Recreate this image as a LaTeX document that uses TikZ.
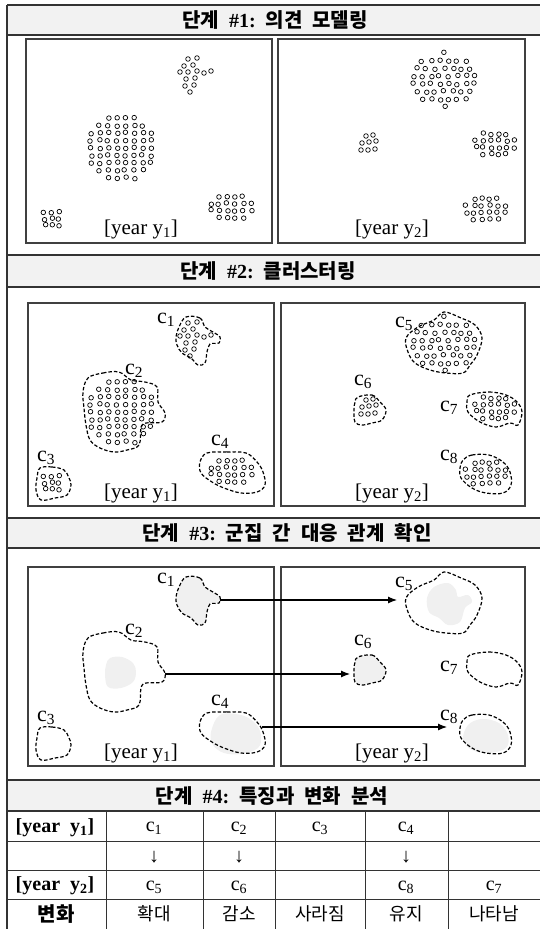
\documentclass[tikz,border=0pt]{standalone}
\usepackage{fontspec}
\setmainfont{Liberation Serif}
\newfontfamily\kr{Noto Sans CJK KR}
\usetikzlibrary{arrows.meta,calc,positioning}

\newcommand{\wgap}{\hspace{10pt}}
\newcommand{\stagetitle}[2]{\kr 단계\wgap{\rmfamily\##1:}\wgap\kr #2}

% small rings filling an ellipse: centre x, centre y, radius x, radius y, spacing
\newcommand{\ringcloud}[5]{%
  \pgfmathtruncatemacro{\nrow}{floor(2*#4/(0.87*#5))}%
  \foreach \k in {0,...,\nrow}{%
    \pgfmathsetmacro{\rowy}{#2+(\k-\nrow/2)*0.87*#5}%
    \pgfmathsetmacro{\halfw}{#3*sqrt(max(0,1-((\rowy-#2)/#4)^2))}%
    \pgfmathtruncatemacro{\ncol}{floor(2*\halfw/#5)}%
    \foreach \i in {0,...,\ncol}{%
      \pgfmathsetmacro{\dotx}{#1+(\i-\ncol/2)*#5+1.2*rand}%
      \pgfmathsetmacro{\doty}{\rowy+0.9*rand}%
      \draw[ring] (\dotx,\doty) circle (2.3pt);
    }%
  }%
}

% the opinions of both years
\newcommand{\opinions}{%
  \pgfmathsetseed{11}%
  \foreach \p in {(188,59),(197,58),(184,66),(193,65),(180,72),(188,72),(197,71),(204,73),(211,71),(186,79),(195,78),(185,86),(194,85),(190,92),
                  (366,136),(373,135),(362,143),(369,142),(376,141),(361,150),(368,150),(375,149)}{
    \draw[ring] \p circle (2.3pt);
  }
  \ringcloud{121}{148}{34}{33}{8.6}
  \ringcloud{52}{219}{11}{9}{7.5}
  \ringcloud{231}{207}{22}{13}{8}
  \ringcloud{444}{80}{33}{27}{8.8}
  \ringcloud{495}{144}{21}{13}{7.8}
  \ringcloud{486}{209}{21}{13}{7.8}
}

% cluster borders
\newcommand{\hullA}[1]{\path[#1] plot[smooth cycle,tension=0.6] coordinates {(186,53) (200,54) (205,63) (213,68) (220,73) (219,79) (210,80) (207,88) (205,99) (198,101) (191,94) (182,89) (177,81) (176,73) (179,63)};}
\newcommand{\hullB}[1]{\path[#1] plot[smooth cycle,tension=0.6] coordinates {(88,114) (103,109) (119,108) (131,116) (145,118) (157,123) (158,138) (165,149) (162,158) (146,159) (141,164) (139,181) (127,186) (114,188) (100,184) (90,176) (86,161) (84,144) (83,128)};}
\newcommand{\hullC}[1]{\path[#1] plot[smooth cycle,tension=0.6] coordinates {(40,204) (52,203) (64,206) (69,214) (71,221) (67,231) (55,234) (41,236) (36,226) (37,214)};}
\newcommand{\hullD}[1]{\path[#1] plot[smooth cycle,tension=0.6] coordinates {(207,189) (227,188) (246,189) (257,198) (263,208) (265,221) (257,228) (241,229) (224,224) (212,218) (201,209) (200,198)};}
\newcommand{\hullE}[1]{\path[#1] plot[smooth cycle,tension=0.6] coordinates {(418,63) (434,56) (444,48) (461,54) (475,61) (482,74) (477,91) (470,101) (463,109) (446,109) (430,106) (415,99) (408,88) (406,74)};}
\newcommand{\hullF}[1]{\path[#1] plot[smooth cycle,tension=0.6] coordinates {(358,133) (372,131) (380,138) (386,146) (382,156) (372,159) (362,161) (355,158) (354,146) (355,138)};}
\newcommand{\hullG}[1]{\path[#1] plot[smooth cycle,tension=0.6] coordinates {(470,131) (489,128) (506,131) (517,138) (522,148) (518,161) (510,159) (496,163) (480,158) (468,148) (467,138)};}
\newcommand{\hullH}[1]{\path[#1] plot[smooth cycle,tension=0.6] coordinates {(463,196) (472,191) (489,191) (503,198) (510,208) (511,221) (503,229) (486,229) (472,224) (461,214) (460,204)};}

% cluster names, #1 = prefix of the node names
\newcommand{\clusternames}[1]{%
  \node[lbl] (#1c1) at (166,56) {c\textsubscript{1}};
  \node[lbl] (#1c2) at (134,107) {c\textsubscript{2}};
  \node[lbl] (#1c3) at (46,194) {c\textsubscript{3}};
  \node[lbl] (#1c4) at (220,178) {c\textsubscript{4}};
  \node[lbl] (#1c5) at (404,60) {c\textsubscript{5}};
  \node[lbl] (#1c6) at (363,118) {c\textsubscript{6}};
  \node[lbl] (#1c7) at (449,144) {c\textsubscript{7}};
  \node[lbl] (#1c8) at (449,193) {c\textsubscript{8}};
}

\begin{document}
\begin{tikzpicture}[x=1pt,y=-1pt,
    frameline/.style={draw=black!80,line width=1.4pt},
    gridline/.style={draw=black!80,line width=1pt},
    headfill/.style={fill=black!5},
    panelbox/.style={draw=black!75,line width=1.1pt},
    ring/.style={draw=black,line width=0.7pt},
    clusterline/.style={draw=black,line width=1.2pt,dash pattern=on 3.5pt off 2pt},
    shade/.style={fill=black!6},
    lbl/.style={inner sep=0pt,font=\fontsize{22}{22}\selectfont},
    yearlbl/.style={inner sep=0pt,font=\fontsize{21}{21}\selectfont},
    title/.style={inner sep=0pt,font=\fontsize{20}{20}\selectfont\bfseries},
    rowhead/.style={inner sep=0pt,font=\fontsize{20}{20}\selectfont\bfseries},
    cell/.style={inner sep=0pt,font=\fontsize{20}{20}\selectfont},
    krcell/.style={inner sep=0pt,font=\kr\fontsize{18}{18}\selectfont},
    link/.style={-{Latex[length=9pt,width=7pt]},line width=1.1pt}]
    \useasboundingbox (0,0) rectangle (540,929);

    % header bands
    \foreach \a/\b in {5/35,255/287,518/548,780/811}{
        \fill[headfill] (7,\a) rectangle (545,\b);
        \draw[frameline] (7,\a) -- (545,\a);
        \draw[frameline] (7,\b) -- (545,\b);
    }
    \draw[frameline] (7,5) -- (7,935);

    \node[title] (s1) at (275,20) {\stagetitle{1}{의견\wgap 모델링}};
    \node[title] (s2) at (268,271) {\stagetitle{2}{클러스터링}};
    \node[title] (s3) at (287,533) {\stagetitle{3}{군집\wgap 간\wgap 대응\wgap 관계\wgap 확인}};
    \node[title] (s4) at (272,796) {\stagetitle{4}{특징과\wgap 변화\wgap 분석}};

    % stage 1
    \draw[panelbox] (26,39) rectangle (272,243);
    \draw[panelbox] (278,39) rectangle (525,243);
    \opinions
    \node[yearlbl] (p1y1) at (141,229) {[year y\textsubscript{1}]};
    \node[yearlbl] (p1y2) at (392,229) {[year y\textsubscript{2}]};

    % stage 2
    \draw[panelbox] (28,303) rectangle (274,506);
    \draw[panelbox] (281,303) rectangle (525,506);
    \begin{scope}[shift={(0,264)}]
        \opinions
        \foreach \h in {\hullA,\hullB,\hullC,\hullD,\hullE,\hullF,\hullG,\hullH}{
            \h{clusterline}
        }
        \clusternames{p2}
        \node[yearlbl] (p2y1) at (141,229) {[year y\textsubscript{1}]};
        \node[yearlbl] (p2y2) at (392,229) {[year y\textsubscript{2}]};
    \end{scope}

    % stage 3
    \draw[panelbox] (28,567) rectangle (274,766);
    \draw[panelbox] (281,567) rectangle (525,766);
    \begin{scope}[shift={(0,524)}]
        \fill[shade] plot[smooth cycle,tension=0.6] coordinates {(110,134) (122,133) (133,139) (136,148) (133,158) (121,164) (108,163) (105,151) (106,141)};
        \fill[shade] plot[smooth cycle,tension=0.6] coordinates {(434,63) (448,59) (456,66) (458,73) (468,71) (472,78) (465,84) (460,98) (448,101) (439,94) (429,88) (427,74)};
        \fill[shade] plot[smooth cycle,tension=0.6] coordinates {(220,191) (241,191) (255,199) (261,211) (258,224) (241,230) (224,229) (213,221) (211,208)};
        \fill[shade] plot[smooth cycle,tension=0.6] coordinates {(468,201) (482,195) (499,199) (508,211) (506,224) (489,229) (472,226) (463,216)};
        \hullA{clusterline,shade}
        \hullF{clusterline,shade}
        \foreach \h in {\hullB,\hullC,\hullD,\hullE,\hullG,\hullH}{
            \h{clusterline}
        }
        \clusternames{p3}
        \node[yearlbl] (p3y1) at (141,229) {[year y\textsubscript{1}]};
        \node[yearlbl] (p3y2) at (392,229) {[year y\textsubscript{2}]};

        % matched clusters
        \coordinate (c1r) at (220,76);
        \coordinate (c5l) at (397,76);
        \coordinate (c2r) at (165,150);
        \coordinate (c6l) at (350,150);
        \coordinate (c4r) at (262,203);
        \coordinate (c8l) at (447,203);
        \draw[link] (c1r) -- (c5l);
        \draw[link] (c2r) -- (c6l);
        \draw[link] (c4r) -- (c8l);
    \end{scope}

    % stage 4 table
    \foreach \y in {841,870,899}{
        \draw[gridline] (7,\y) -- (545,\y);
    }
    \foreach \x in {106,203,275,365,448}{
        \draw[gridline] (\x,811) -- (\x,935);
    }
    \node[rowhead] (r1) at (55,828) {[year\hspace{10pt}y\textsubscript{1}]};
    \node[rowhead] (r3) at (55,886) {[year\hspace{10pt}y\textsubscript{2}]};
    \node[rowhead,font=\kr\fontsize{20}{20}\selectfont\bfseries] (r4) at (56,914) {변화};
    \foreach \x/\t in {154/1,239/2,320/3,406/4}{
        \node[cell] (a\t) at (\x,828) {c\textsubscript{\t}};
    }
    \foreach \x [count=\n] in {154,239,406}{
        \node[cell] (d\n) at (\x,857) {↓};
    }
    \foreach \x/\t in {154/5,239/6,406/8,494/7}{
        \node[cell] (b\t) at (\x,887) {c\textsubscript{\t}};
    }
    \foreach \x/\t [count=\n] in {154/확대,239/감소,320/사라짐,406/유지,494/나타남}{
        \node[krcell] (e\n) at (\x,914) {\t};
    }
\end{tikzpicture}
\end{document}
